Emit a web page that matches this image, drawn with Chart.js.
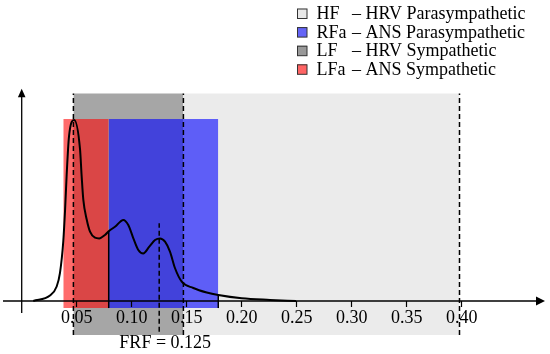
<!DOCTYPE html>
<html><head><meta charset="utf-8">
<script src="https://cdn.jsdelivr.net/npm/chart.js@4/dist/chart.umd.min.js"></script>
<style>html,body{margin:0;padding:0;background:#fff}canvas{display:block}</style>
</head><body>
<canvas id="c" width="550" height="354"></canvas>
<script>
// ---- data ----
const bandNames = ['HF', 'RFa', 'LF', 'LFa'];
const bandDescriptions = ['– HRV Parasympathetic', '– ANS Parasympathetic', '– HRV Sympathetic', '– ANS Sympathetic'];
const hfRange = [0.147, 0.398];
const lfRange = [0.047, 0.147];
const lfaRange = [0.0378, 0.0791];
const rfaRange = [0.0791, 0.1787];
const hrvBandLevels = [-0.188, 1.147];
const ansBandLevels = [-0.039, 1.005];
const frf = 0.125;
const frfLineLevels = [-0.17, 0.429];
const boundaryFreqs = [0.0791, 0.1787];
const boundaryTops = [0.386, 0.033];
const spectrumFreq = [0.0105,0.0257,0.0318,0.0348,0.0378,0.0394,0.0409,0.0430,0.0477,0.0530,0.0545,0.0560,0.0591,0.0621,0.0666,0.0705,0.0757,0.0796,0.0848,0.0924,0.0969,0.1015,0.1060,0.1105,0.1160,0.1212,0.1257,0.1303,0.1348,0.1394,0.1455,0.1560,0.1682,0.1787,0.2000,0.2257,0.2494];
const spectrumPower = [0,0.03,0.08,0.155,0.33,0.50,0.70,0.91,1.0,0.84,0.69,0.56,0.45,0.383,0.35,0.346,0.365,0.388,0.41,0.448,0.42,0.346,0.282,0.263,0.30,0.337,0.346,0.328,0.273,0.181,0.107,0.072,0.047,0.033,0.015,0.006,0];
const tickValues = [0.05, 0.10, 0.15, 0.20, 0.25, 0.30, 0.35, 0.40];
const tickLabels = ['0.05', '0.10', '0.15', '0.20', '0.25', '0.30', '0.35', '0.40'];

// ---- styles ----
const FONT = '"Liberation Serif", "Times New Roman", serif';
const colHF = '#ebebeb', colLF = '#a6a6a6';
const colLFa = 'rgba(255,0,0,0.58)', colRFa = 'rgba(0,0,255,0.6)';
const legendColors = ['#e8e8e8', '#6464f6', '#999999', '#ff6464'];

function rect(range, levels, color, order, label) {
  return {
    type: 'line', label, order,
    data: [{x: range[0], y: levels[1]}, {x: range[1], y: levels[1]}],
    fill: {value: levels[0]}, backgroundColor: color,
    borderWidth: 0, pointRadius: 0, tension: 0, clip: false
  };
}
function vline(x, levels, order, dashed, width) {
  return {
    type: 'line', order,
    data: [{x, y: levels[0]}, {x, y: levels[1]}],
    borderColor: '#000', borderWidth: width || 1.5, borderDash: dashed ? [5, 3] : [],
    pointRadius: 0, fill: false, tension: 0, clip: false
  };
}

const spectrum = spectrumFreq.map((f, i) => ({x: f, y: spectrumPower[i]}));

const datasets = [
  {type: 'line', order: 0, data: spectrum, borderColor: '#000', borderWidth: 2,
   pointRadius: 0, fill: false, cubicInterpolationMode: 'monotone', clip: false},
  vline(boundaryFreqs[0], [ansBandLevels[0], boundaryTops[0]], 1, false, 1.5),
  vline(boundaryFreqs[1], [ansBandLevels[0], boundaryTops[1]], 1, false, 1.5),
  vline(lfRange[0], hrvBandLevels, 2, true),
  vline(lfRange[1], hrvBandLevels, 2, true),
  vline(hfRange[1], hrvBandLevels, 2, true),
  vline(frf, frfLineLevels, 2, true),
  rect(rfaRange, ansBandLevels, colRFa, 5, bandNames[1]),
  rect(lfaRange, ansBandLevels, colLFa, 6, bandNames[3]),
  rect(lfRange, hrvBandLevels, colLF, 8, bandNames[2]),
  rect(hfRange, hrvBandLevels, colHF, 9, bandNames[0])
];

const decor = {
  id: 'decor',
  afterDraw(chart) {
    const {ctx, scales: {x, y}} = chart;
    ctx.save();
    ctx.strokeStyle = '#000'; ctx.fillStyle = '#000'; ctx.lineWidth = 1.3;
    // x axis with arrow
    const y0 = y.getPixelForValue(0);
    const xs = 3, xe = 545;
    ctx.beginPath(); ctx.moveTo(xs, y0); ctx.lineTo(xe - 6, y0); ctx.stroke();
    ctx.beginPath(); ctx.moveTo(xe, y0); ctx.lineTo(xe - 9, y0 - 4.5); ctx.lineTo(xe - 9, y0 + 4.5); ctx.closePath(); ctx.fill();
    // y axis with arrow
    const x0 = x.getPixelForValue(0);
    const yb = y.getPixelForValue(-0.066), yt = y.getPixelForValue(1.172);
    ctx.beginPath(); ctx.moveTo(x0, yb); ctx.lineTo(x0, yt + 6); ctx.stroke();
    ctx.beginPath(); ctx.moveTo(x0, yt); ctx.lineTo(x0 - 3.8, yt + 8.5); ctx.lineTo(x0 + 3.8, yt + 8.5); ctx.closePath(); ctx.fill();
    // FRF label
    ctx.font = '18px ' + FONT;
    ctx.textAlign = 'center'; ctx.textBaseline = 'middle';
    ctx.fillText('FRF = ' + frf, x.getPixelForValue(frf) + 6, 343);
    // legend
    ctx.textAlign = 'left';
    for (let i = 0; i < bandNames.length; i++) {
      const cy = 13.5 + i * 18.6;
      ctx.fillStyle = legendColors[i];
      ctx.fillRect(297, cy - 5, 10, 10);
      ctx.strokeStyle = '#333'; ctx.lineWidth = 1;
      ctx.strokeRect(297.5, cy - 4.5, 9.5, 9.5);
      ctx.fillStyle = '#000';
      ctx.fillText(bandNames[i], 316.5, cy + 1);
      ctx.fillText(bandDescriptions[i], 352, cy + 1);
    }
    ctx.restore();
  }
};

new Chart(document.getElementById('c'), {
  type: 'line',
  data: {datasets},
  options: {
    responsive: false, animation: false, devicePixelRatio: 1,
    layout: {padding: 0},
    plugins: {legend: {display: false}, tooltip: {enabled: false}},
    scales: {
      x: {
        type: 'linear', min: -0.01973, max: 0.48027,
        position: {y: 0},
        afterFit: s => { s.height = 0; },
        afterBuildTicks: s => { s.ticks = tickValues.map(v => ({value: v})); },
        border: {display: false},
        grid: {drawOnChartArea: false, drawTicks: true, tickLength: 6, color: '#000', tickWidth: 1.2, z: 1},
        ticks: {
          autoSkip: false, maxRotation: 0, padding: 0, color: '#000', z: 1,
          font: {family: FONT, size: 18},
          callback: (v, i) => tickLabels[i]
        }
      },
      y: {type: 'linear', display: false, min: -0.2928, max: 1.663}
    }
  },
  plugins: [decor]
});
</script>
</body></html>
